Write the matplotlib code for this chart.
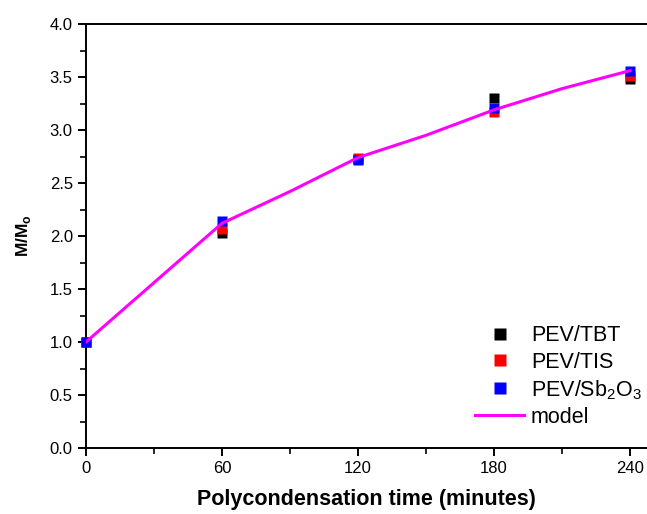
import matplotlib
matplotlib.use("Agg")
import matplotlib.pyplot as plt
from matplotlib.ticker import MultipleLocator

plt.rcParams['font.family'] = ['Liberation Sans', 'DejaVu Sans']
plt.rcParams['mathtext.fontset'] = 'custom'
plt.rcParams['mathtext.rm'] = 'Liberation Sans'
plt.rcParams['mathtext.bf'] = 'Liberation Sans:bold'

time = [0, 60, 120, 180, 240]
tbt = [1.00, 2.03, 2.73, 3.30, 3.48]
tis = [1.00, 2.07, 2.74, 3.17, 3.51]
sb2o3 = [1.00, 2.14, 2.72, 3.21, 3.56]
model_t = [0, 30, 60, 90, 120, 150, 180, 210, 240]
model_y = [1.00, 1.56, 2.12, 2.42, 2.74, 2.95, 3.19, 3.39, 3.56]

fig = plt.figure(figsize=(6.47, 5.14), dpi=100)
ax = fig.add_axes([86/647, 66/514, 1 - 86/647, (448-24)/514])

ms = 7.7
ax.plot(time, tbt, 's', color='black', ms=ms, mec='none', label='PEV/TBT', clip_on=False, zorder=3)
ax.plot(time, tis, 's', color='red', ms=ms, mec='none', label='PEV/TIS', clip_on=False, zorder=3)
ax.plot(time, sb2o3, 's', color='blue', ms=ms, mec='none', label='PEV/Sb$_2$O$_3$', clip_on=False, zorder=3)
ax.plot(model_t, model_y, '-', color='#ff00ff', lw=2.2, label='model', zorder=4)

ax.set_xlim(0, 247.5)
ax.set_ylim(0, 4.0)
ax.xaxis.set_major_locator(MultipleLocator(60))
ax.xaxis.set_minor_locator(MultipleLocator(30))
ax.yaxis.set_major_locator(MultipleLocator(0.5))
ax.yaxis.set_minor_locator(MultipleLocator(0.25))

ax.spines['right'].set_visible(False)
for s in ['left', 'bottom', 'top']:
    ax.spines[s].set_linewidth(1.4)
ax.tick_params(which='major', direction='out', length=6, width=1.4, labelsize=12, top=False, right=False)
ax.tick_params(which='minor', direction='out', length=4, width=1.2, top=False, right=False)
ax.set_yticks([0, 0.5, 1.0, 1.5, 2.0, 2.5, 3.0, 3.5, 4.0])
ax.set_yticklabels(['0.0', '0.5', '1.0', '1.5', '2.0', '2.5', '3.0', '3.5', '4.0'])

ax.set_xlabel('Polycondensation time (minutes)', fontsize=15.5, fontweight='bold', labelpad=9)
ax.set_ylabel(r'M/M$_\mathbf{o}$', fontsize=12.5, fontweight='bold', labelpad=12)

leg = ax.legend(loc='lower right', bbox_to_anchor=(1.01, 0.022), frameon=False, fontsize=15.5,
                handlelength=2.3, handletextpad=0.3, labelspacing=0.25, borderpad=0.3,
                borderaxespad=0.2, markerscale=1.2)

fig.savefig('out.png', dpi=100)
